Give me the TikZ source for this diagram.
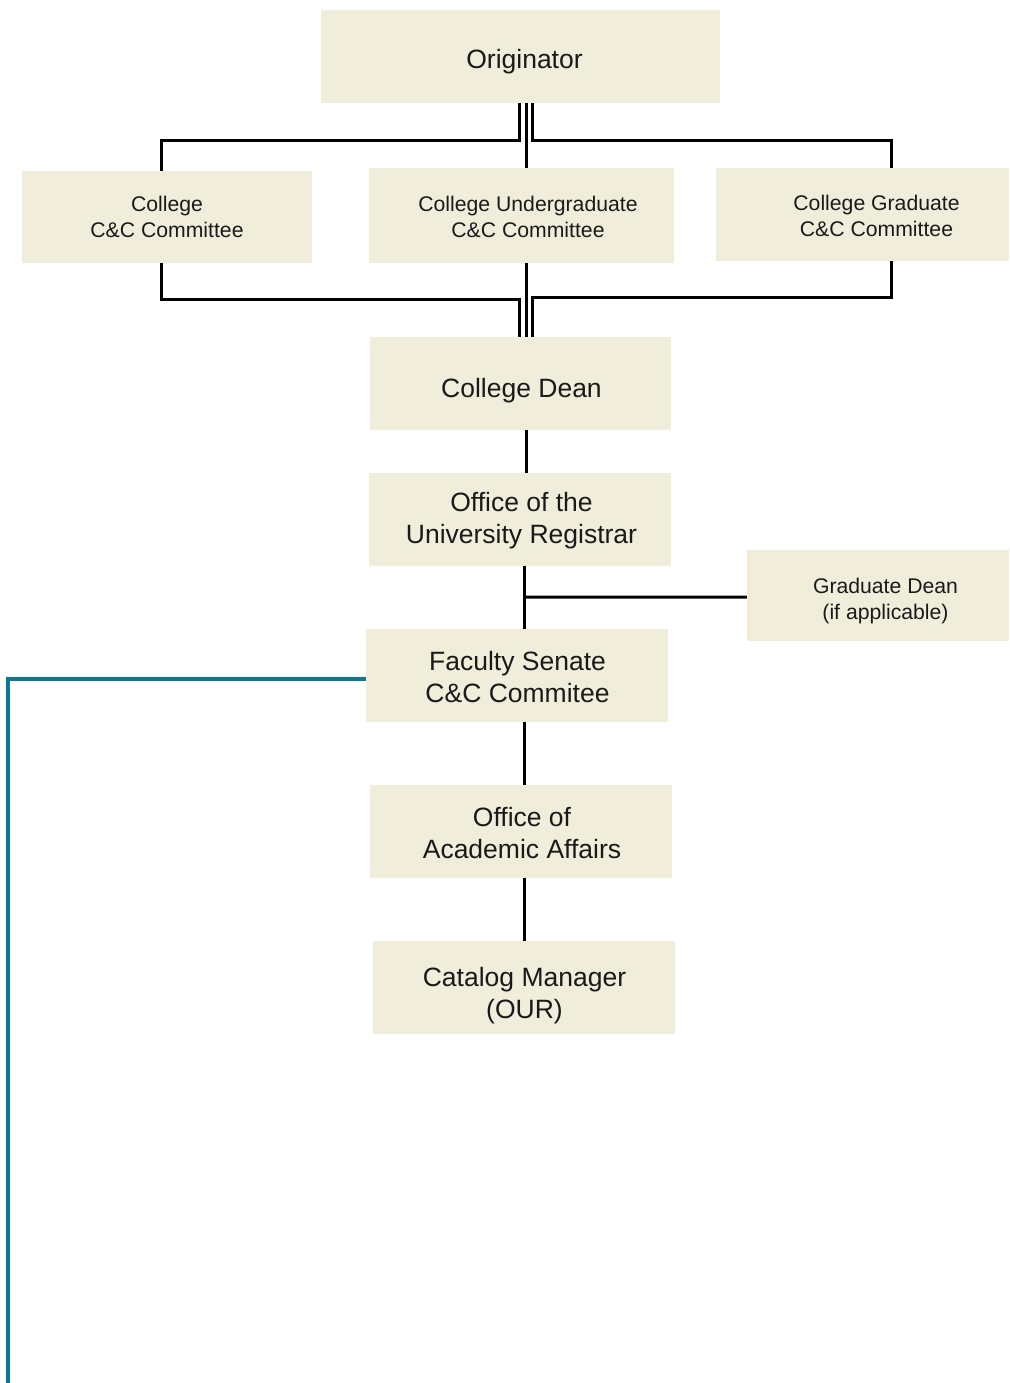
\documentclass[tikz,border=0pt]{standalone}
\usepackage{fontspec}
\setmainfont{Liberation Sans}
\usetikzlibrary{calc}
\definecolor{boxfill}{HTML}{F0EDDB}
\definecolor{teal1}{HTML}{0B7896}
\definecolor{txt}{HTML}{1A1A1A}
\begin{document}
\begin{tikzpicture}[x=1pt,y=-1pt,
  box/.style={rectangle,fill=boxfill,inner sep=0pt},
  bigtxt/.style={align=center,text=txt,inner sep=0pt,
    font=\fontsize{26.5}{32}\selectfont},
  smalltxt/.style={align=center,text=txt,inner sep=0pt,
    font=\fontsize{21.2}{26}\selectfont},
  conn/.style={draw=black,line width=3pt},
  tealconn/.style={draw=teal1,line width=3.2pt}]
\useasboundingbox (0,0) rectangle (1009,1383);
% boxes
\node[box,minimum width=399pt,minimum height=93pt,
  label={[bigtxt,xshift=4pt,yshift=-5pt]center:Originator}] (orig) at (520.5,56.5) {};
\node[box,minimum width=290pt,minimum height=92pt,
  label={[smalltxt]center:College\\C\&C Committee}] (ccc) at (167,217) {};
\node[box,minimum width=305pt,minimum height=95pt,
  label={[smalltxt,xshift=6.5pt,yshift=-1pt]center:College Undergraduate\\C\&C Committee}] (ucc) at (521.5,215.5) {};
\node[box,minimum width=293pt,minimum height=93pt,
  label={[smalltxt,xshift=14pt,yshift=-1pt]center:College Graduate\\C\&C Committee}] (gcc) at (862.5,214.5) {};
\node[box,minimum width=301pt,minimum height=93pt,
  label={[bigtxt,xshift=1pt,yshift=-7pt]center:College Dean}] (dean) at (520.5,383.5) {};
\node[box,minimum width=302pt,minimum height=93pt,
  label={[bigtxt,xshift=1.5pt,yshift=-1pt]center:Office of the\\University Registrar}] (reg) at (520,519.5) {};
\node[box,minimum width=262pt,minimum height=91pt,
  label={[smalltxt,xshift=7.5pt,yshift=-6pt]center:Graduate Dean\\(if applicable)}] (gdean) at (878,595.5) {};
\node[box,minimum width=302pt,minimum height=93pt,
  label={[bigtxt,xshift=0.5pt,yshift=-2pt]center:Faculty Senate\\C\&C Commitee}] (fs) at (517,675.5) {};
\node[box,minimum width=302pt,minimum height=93pt,
  label={[bigtxt,xshift=1pt,yshift=-2pt]center:Office of\\Academic Affairs}] (oaa) at (521,831.5) {};
\node[box,minimum width=302pt,minimum height=93pt,
  label={[bigtxt,xshift=0.5pt,yshift=-8pt]center:Catalog Manager\\(OUR)}] (cm) at (524,987.5) {};
\coordinate (tealend) at (8,1383);
% top split
\draw[conn] ($(orig.south)+(-1.5,0)$) |- ++(0,37) -| ($(ccc.north)+(-6,0)$);
\draw[conn] ($(orig.south)+(5.5,0)$) -- ($(ucc.north)+(4.5,0)$);
\draw[conn] ($(orig.south)+(11.5,0)$) |- ++(0,37) -| ($(gcc.north)+(28.5,0)$);
% bottom join
\draw[conn] ($(ccc.south)+(-6,0)$) |- ($(dean.north)+(-1.5,-37)$) -- ($(dean.north)+(-1.5,0)$);
\draw[conn] ($(ucc.south)+(4.5,0)$) -- ($(dean.north)+(5.5,0)$);
\draw[conn] ($(gcc.south)+(28.5,0)$) |- ($(dean.north)+(11.5,-39)$) -- ($(dean.north)+(11.5,0)$);
% chain
\draw[conn] ($(dean.south)+(5.5,0)$) -- ($(reg.north)+(6,0)$);
\draw[conn] ($(reg.south)+(4,0)$) -- ($(fs.north)+(7,0)$);
\draw[conn] ($(gdean.west)+(0,1.5)$) -- ($(reg.south)+(4,31)$);
\draw[conn] ($(fs.south)+(7,0)$) -- ($(oaa.north)+(3,0)$);
\draw[conn] ($(oaa.south)+(3,0)$) -- ($(cm.north)+(0,0)$);
% teal return line
\draw[tealconn] ($(fs.west)+(0,3.5)$) -| (tealend);
\end{tikzpicture}
\end{document}
